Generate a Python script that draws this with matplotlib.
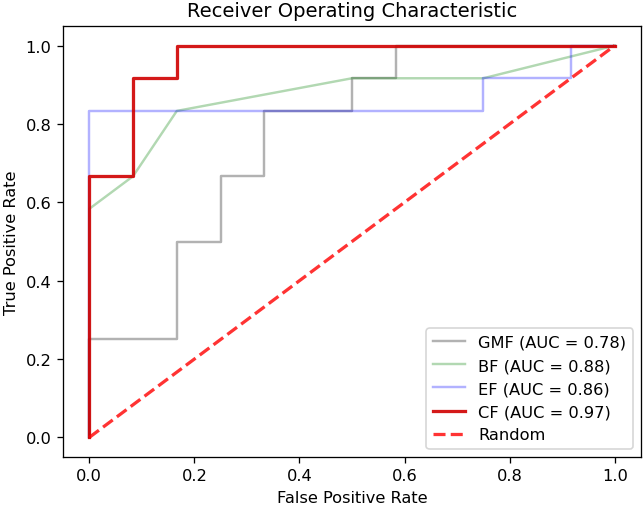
import matplotlib
matplotlib.use('Agg')
import matplotlib.pyplot as plt

# ROC points (12 negatives / 12 positives -> steps of 1/12)
gmf_fpr = [0, 0, 2/12, 2/12, 3/12, 3/12, 4/12, 4/12, 6/12, 6/12, 7/12, 7/12, 1]
gmf_tpr = [0, 3/12, 3/12, 6/12, 6/12, 8/12, 8/12, 10/12, 10/12, 11/12, 11/12, 1, 1]

bf_fpr = [0, 0, 1/12, 2/12, 6/12, 9/12, 1]
bf_tpr = [0, 7/12, 8/12, 10/12, 11/12, 11/12, 1]

ef_fpr = [0, 0, 9/12, 9/12, 11/12, 11/12, 1]
ef_tpr = [0, 10/12, 10/12, 11/12, 11/12, 1, 1]

cf_fpr = [0, 0, 1/12, 1/12, 2/12, 2/12, 1]
cf_tpr = [0, 8/12, 8/12, 11/12, 11/12, 1, 1]

labels = ['GMF (AUC = 0.78)', 'BF (AUC = 0.88)', 'EF (AUC = 0.86)', 'CF (AUC = 0.97)']

dpi = 117
fig = plt.figure(figsize=(644 / dpi, 507 / dpi), dpi=dpi)
ax = fig.add_axes([0.0978, 0.0966, 0.8975, 0.8501])

ax.plot(gmf_fpr, gmf_tpr, color='gray', lw=1.5, alpha=0.6, label=labels[0])
ax.plot(bf_fpr, bf_tpr, color='green', lw=1.5, alpha=0.3, label=labels[1])
ax.plot(ef_fpr, ef_tpr, color='blue', lw=1.5, alpha=0.3, label=labels[2])
ax.plot(cf_fpr, cf_tpr, color='#d00000', lw=2, alpha=0.9, label=labels[3])
ax.plot([0, 1], [0, 1], color='red', lw=2, linestyle='--', alpha=0.8, label='Random')

ax.set_xlabel('False Positive Rate')
ax.set_ylabel('True Positive Rate')
ax.set_title('Receiver Operating Characteristic')
ax.legend(loc='lower right')

plt.savefig('out.png', dpi=dpi)
